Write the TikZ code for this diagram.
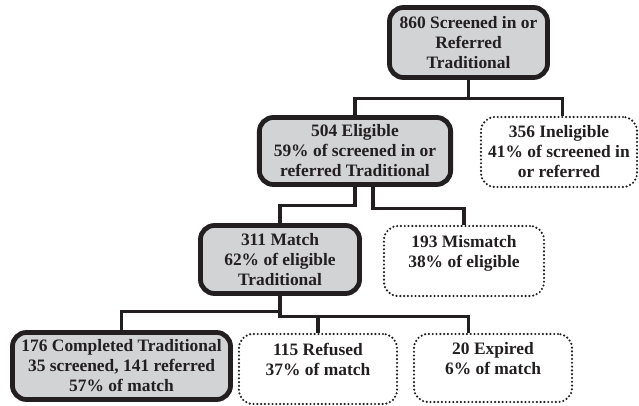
\documentclass[tikz,border=0pt]{standalone}
\usepackage{fontspec}
\setmainfont{Liberation Serif}
\usetikzlibrary{positioning}
\definecolor{boxgray}{RGB}{209,211,212}
\definecolor{ink}{RGB}{35,31,32}
\tikzset{
  boxfont/.style={font=\fontsize{12.4}{14.2}\selectfont\bfseries, text=ink},
  kept/.style={draw=ink, fill=boxgray, line width=3.4pt, rounded corners=0.35cm, align=center, inner sep=2pt, boxfont},
  dropped/.style={draw=ink, dash pattern=on 0pt off 2.7pt, line cap=round, line width=1.7pt, rounded corners=0.35cm, align=center, inner sep=2pt, boxfont},
  link/.style={draw=ink, line width=2.2pt}
}

\begin{document}
\begin{tikzpicture}[x=0.025cm, y=-0.025cm]
\useasboundingbox (0,0) rectangle (639,406);

% boxes, top to bottom
\node[kept, minimum width=3.95cm, minimum height=1.75cm] (screened) at (468.5,42.5)
  {860 Screened in or\\Referred\\Traditional};
\node[kept, minimum width=4.78cm, minimum height=1.675cm] (eligible) at (355,151)
  {504 Eligible\\59\% of screened in or\\referred Traditional};
\node[dropped, minimum width=3.9cm, minimum height=1.75cm] (ineligible) at (559,152)
  {356 Ineligible\\41\% of screened in\\or referred};
\node[kept, minimum width=3.975cm, minimum height=1.7cm] (match) at (280,259.5)
  {311 Match\\62\% of eligible\\Traditional};
\node[dropped, minimum width=4.0cm, minimum height=1.75cm] (mismatch) at (464,261)
  {193 Mismatch\\38\% of eligible\\~};
\node[kept, minimum width=5.45cm, minimum height=1.675cm] (completed) at (121.5,366)
  {176 Completed Traditional\\35 screened, 141 referred\\57\% of match};
\node[dropped, minimum width=3.95cm, minimum height=1.75cm] (refused) at (318,369)
  {115 Refused\\37\% of match\\~};
\node[dropped, minimum width=3.95cm, minimum height=1.7cm] (expired) at (493,368)
  {20 Expired\\6\% of match\\~};

% connectors
\draw[link] (screened.south) -- ++(0,19) coordinate (split1) -| (eligible.north);
\draw[link] (split1) -| ([xshift=0.08cm]ineligible.north);
\draw[link] (eligible.south) -- ++(0,19) -| (match.north);
\draw[link] ([xshift=0.45cm]eligible.south) -- ++(0,22) -| (mismatch.north);
\draw[link] (match.south) -- ++(0,16) -| (completed.north);
\draw[link] (match.south) -- ++(0,21) coordinate (split3) -| ([xshift=-0.62cm]expired.north);
\draw[link] (refused.north) -- (refused.north |- split3);
\end{tikzpicture}
\end{document}
